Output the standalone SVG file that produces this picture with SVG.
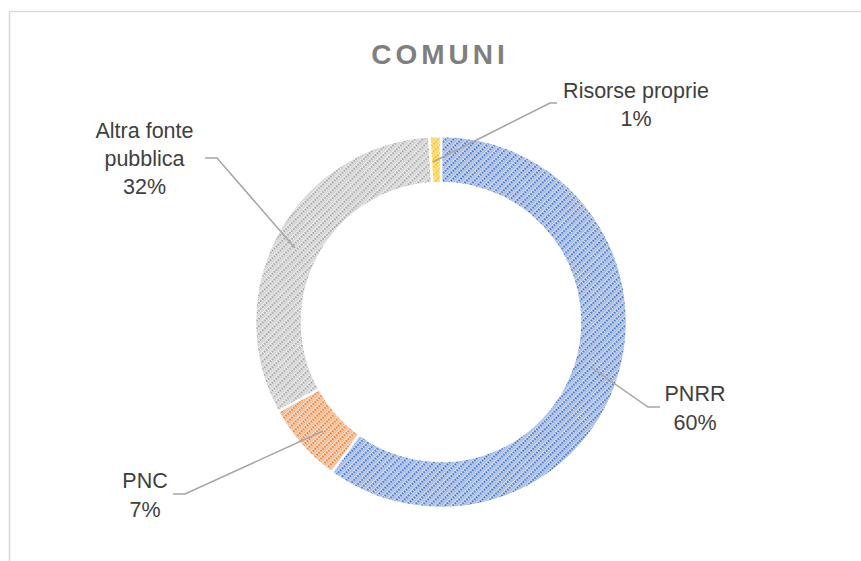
<svg xmlns="http://www.w3.org/2000/svg" width="861" height="561" viewBox="0 0 861 561">
<style>
.lbl{font-family:"Liberation Sans",Arial,sans-serif;font-size:21.5px;fill:#404040;text-anchor:middle}
.ttl{font-family:"Liberation Sans",Arial,sans-serif;font-size:28px;font-weight:bold;fill:#7F7F7F;text-anchor:middle;letter-spacing:4px}
.lead{fill:none;stroke:#A5A5A5;stroke-width:1.5}
.seg{stroke:#FFFFFF;stroke-width:2.5;stroke-linejoin:miter}
</style>
<defs>
<pattern id="pBlue" width="5.5" height="5.5" patternUnits="userSpaceOnUse" patternTransform="rotate(45)">
<rect width="5.5" height="5.5" fill="#D6E0F4"/>
<line x1="3.9" y1="0" x2="3.9" y2="5.5" stroke="#9FB6E3" stroke-width="1.4"/>
<line x1="1.3" y1="0" x2="1.3" y2="5.5" stroke="#4472C4" stroke-width="2" stroke-dasharray="1.9 0.85"/>
</pattern>
<pattern id="pOrange" width="5.5" height="5.5" patternUnits="userSpaceOnUse" patternTransform="rotate(45)">
<rect width="5.5" height="5.5" fill="#FBE0CD"/>
<line x1="3.9" y1="0" x2="3.9" y2="5.5" stroke="#F4B68B" stroke-width="1.4"/>
<line x1="1.3" y1="0" x2="1.3" y2="5.5" stroke="#ED7D31" stroke-width="2" stroke-dasharray="1.9 0.85"/>
</pattern>
<pattern id="pGray" width="5.5" height="5.5" patternUnits="userSpaceOnUse" patternTransform="rotate(45)">
<rect width="5.5" height="5.5" fill="#EEEEEE"/>
<line x1="3.9" y1="0" x2="3.9" y2="5.5" stroke="#D0D0D0" stroke-width="1.4"/>
<line x1="1.3" y1="0" x2="1.3" y2="5.5" stroke="#A5A5A5" stroke-width="2" stroke-dasharray="1.9 0.85"/>
</pattern>
<pattern id="pYellow" width="5.5" height="5.5" patternUnits="userSpaceOnUse" patternTransform="rotate(45)">
<rect width="5.5" height="5.5" fill="#FFE9A3"/>
<line x1="3.9" y1="0" x2="3.9" y2="5.5" stroke="#FFD45C" stroke-width="1.4"/>
<line x1="1.3" y1="0" x2="1.3" y2="5.5" stroke="#FFC000" stroke-width="2" stroke-dasharray="1.9 0.85"/>
</pattern>
</defs>
<rect x="0" y="0" width="861" height="561" fill="#FFFFFF"/>
<rect x="9.5" y="11.5" width="900" height="600" fill="#FFFFFF" stroke="#D9D9D9" stroke-width="1.5"/>
<text class="ttl" x="440" y="64">COMUNI</text>
<g id="seg-pnrr"><path class="seg" fill="url(#pBlue)" d="M441,136 A186,186 0 1 1 331.67,472.48 L359.30,434.45 A139,139 0 1 0 441,183 Z"/></g>
<g id="seg-pnc"><path class="seg" fill="url(#pOrange)" d="M331.67,472.48 A186,186 0 0 1 278.01,411.61 L319.19,388.96 A139,139 0 0 0 359.30,434.45 Z"/></g>
<g id="seg-altra"><path class="seg" fill="url(#pGray)" d="M278.01,411.61 A186,186 0 0 1 429.32,136.37 L432.27,183.27 A139,139 0 0 0 319.19,388.96 Z"/></g>
<g id="seg-risorse"><path class="seg" fill="url(#pYellow)" d="M429.32,136.37 A186,186 0 0 1 441,136 L441,183 A139,139 0 0 0 432.27,183.27 Z"/></g>
<g id="connectors">
<polyline class="lead" points="433,162 550,103 557,103"/>
<polyline class="lead" points="205,158 217,158 295,248"/>
<polyline class="lead" points="592,368 648,407 660,407"/>
<polyline class="lead" points="173,494 185,494 323,431"/>
</g>
<g id="lbl-risorse"><text class="lbl" x="636" y="98">Risorse proprie</text><text class="lbl" x="636" y="126">1%</text></g>
<g id="lbl-altra"><text class="lbl" x="144.5" y="138">Altra fonte</text><text class="lbl" x="144.5" y="166">pubblica</text><text class="lbl" x="144.5" y="194">32%</text></g>
<g id="lbl-pnrr"><text class="lbl" x="695" y="401">PNRR</text><text class="lbl" x="695" y="430">60%</text></g>
<g id="lbl-pnc"><text class="lbl" x="145" y="488">PNC</text><text class="lbl" x="145" y="517">7%</text></g>
</svg>
